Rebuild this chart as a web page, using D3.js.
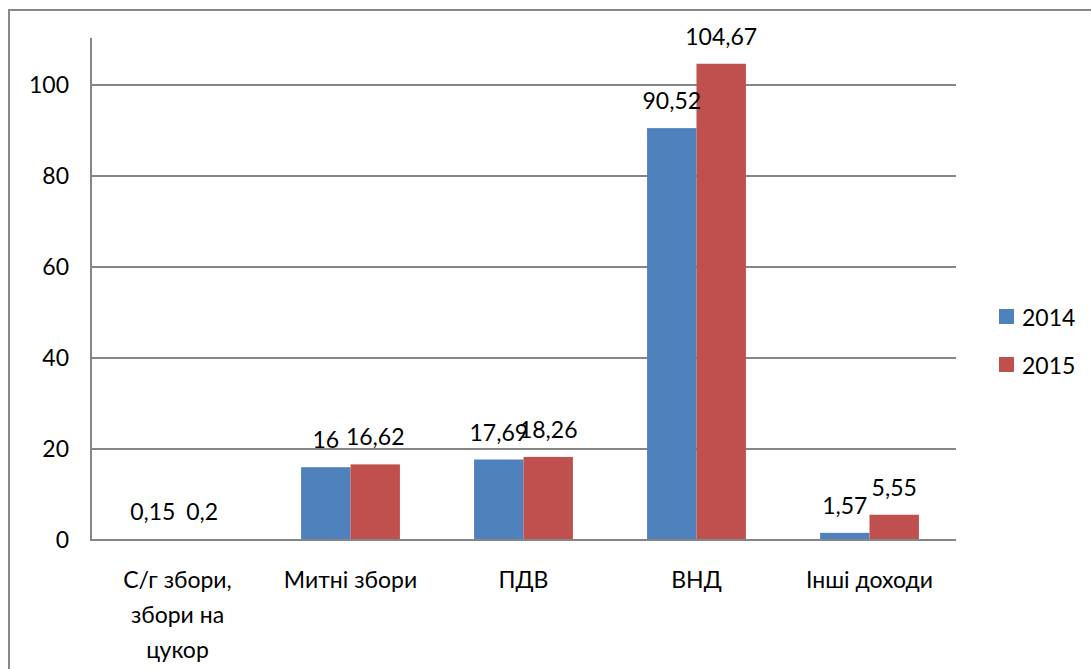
<!DOCTYPE html>
<html>
<head>
<meta charset="utf-8">
<script src="https://cdn.jsdelivr.net/npm/d3@7"></script>
<style>
  html, body { margin: 0; padding: 0; background: #fff; }
  svg { display: block; }
  text { font-family: Lato, "Open Sans", sans-serif; fill: #000; }
</style>
</head>
<body>
<svg id="chart" width="1091" height="669"></svg>
<script>
// Revenue categories (multi-line labels split by "\n")
const categories = ["С/г збори,\nзбори на\nцукор", "Митні збори", "ПДВ", "ВНД", "Інші доходи"];
const years = ["2014", "2015"];
const values2014 = [0.15, 16, 17.69, 90.52, 1.57];
const values2015 = [0.2, 16.62, 18.26, 104.67, 5.55];
const labels2014 = ["0,15", "16", "17,69", "90,52", "1,57"];
const labels2015 = ["0,2", "16,62", "18,26", "104,67", "5,55"];
const yTicks = [0, 20, 40, 60, 80, 100];
const colors = ["#4F81BD", "#C0504D"];

const svg = d3.select("#chart");
const W = 1091, H = 669;
const plot = { left: 91, right: 956, top: 39.5, bottom: 540 };

// Outer frame (runs off the right and bottom edges)
svg.append("rect")
  .attr("x", 9).attr("y", 10)
  .attr("width", W + 20).attr("height", H + 20)
  .attr("fill", "none").attr("stroke", "#878787").attr("stroke-width", 2);

const y = d3.scaleLinear().domain([0, 110]).range([plot.bottom, plot.top]);
const x = d3.scaleBand().domain(categories).range([plot.left, plot.right]).padding(0);
const bw = x.bandwidth() / 3.5;
const xs = d3.scaleBand().domain(years)
  .range([x.bandwidth() / 2 - bw, x.bandwidth() / 2 + bw]).padding(0);

// Horizontal gridlines
svg.append("g").selectAll("line").data(yTicks.filter(d => d > 0)).join("line")
  .attr("x1", plot.left).attr("x2", plot.right)
  .attr("y1", d => y(d)).attr("y2", d => y(d))
  .attr("stroke", "#868686").attr("stroke-width", 2);

// Y axis labels
svg.append("g").selectAll("text").data(yTicks).join("text")
  .attr("x", 69).attr("y", d => y(d))
  .attr("dy", "0.36em")
  .attr("text-anchor", "end")
  .attr("font-size", 23)
  .text(d => d);

// Bars
const series = [
  { key: years[0], vals: values2014, labels: labels2014, color: colors[0] },
  { key: years[1], vals: values2015, labels: labels2015, color: colors[1] }
];

series.forEach(s => {
  const g = svg.append("g");
  g.selectAll("rect").data(categories).join("rect")
    .attr("x", (c) => x(c) + xs(s.key))
    .attr("y", (c, i) => y(s.vals[i]))
    .attr("width", xs.bandwidth())
    .attr("height", (c, i) => y(0) - y(s.vals[i]))
    .attr("fill", s.color);
});

// Axis lines
svg.append("line")
  .attr("x1", plot.left).attr("x2", plot.right)
  .attr("y1", y(0)).attr("y2", y(0))
  .attr("stroke", "#868686").attr("stroke-width", 2);
svg.append("line")
  .attr("x1", plot.left).attr("x2", plot.left)
  .attr("y1", plot.top - 1.5).attr("y2", y(0) + 1)
  .attr("stroke", "#868686").attr("stroke-width", 2);

// Value labels above bars
series.forEach(s => {
  svg.append("g").selectAll("text").data(categories).join("text")
    .attr("x", (c) => x(c) + xs(s.key) + xs.bandwidth() / 2)
    .attr("y", (c, i) => y(s.vals[i]) - 19)
    .attr("text-anchor", "middle")
    .attr("font-size", 23)
    .text((c, i) => s.labels[i]);
});

// Category labels
const catG = svg.append("g");
categories.forEach(c => {
  const t = catG.append("text")
    .attr("text-anchor", "middle")
    .attr("font-size", 23);
  c.split("\n").forEach((line, i) => {
    t.append("tspan")
      .attr("x", x(c) + x.bandwidth() / 2)
      .attr("y", 588 + i * 35)
      .text(line);
  });
});

// Legend
const legend = svg.append("g");
series.forEach((s, i) => {
  legend.append("rect")
    .attr("x", 999).attr("y", 309 + i * 48)
    .attr("width", 15).attr("height", 15)
    .attr("fill", s.color);
  legend.append("text")
    .attr("x", 1022).attr("y", 326 + i * 48)
    .attr("font-size", 23)
    .text(s.key);
});
</script>
</body>
</html>
